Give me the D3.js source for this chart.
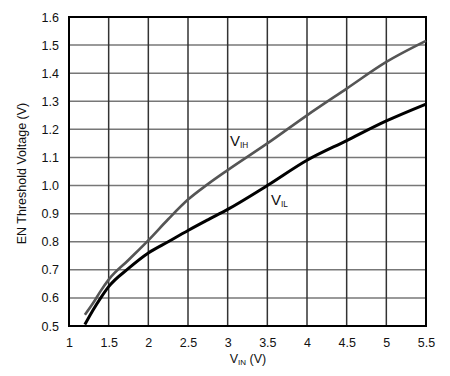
<!DOCTYPE html>
<html><head><meta charset="utf-8">
<script src="https://cdn.jsdelivr.net/npm/d3@7"></script>
<style>body{margin:0;background:#fff}svg{display:block}text{font-family:"Liberation Sans",Arial,sans-serif}</style>
</head><body>
<svg id="c" width="450" height="376"></svg>
<script>
const xTicks = [1, 1.5, 2, 2.5, 3, 3.5, 4, 4.5, 5, 5.5];
const yTicks = [0.5, 0.6, 0.7, 0.8, 0.9, 1.0, 1.1, 1.2, 1.3, 1.4, 1.5, 1.6];
const vin = [1.2, 1.3, 1.4, 1.5, 1.75, 2, 2.25, 2.5, 2.75, 3, 3.5, 4, 4.5, 5, 5.5];
const vih = [0.54, 0.58, 0.625, 0.665, 0.735, 0.805, 0.88, 0.95, 1.005, 1.055, 1.15, 1.25, 1.345, 1.44, 1.515];
const vil = [0.505, 0.555, 0.60, 0.64, 0.705, 0.76, 0.80, 0.84, 0.878, 0.915, 1.0, 1.09, 1.16, 1.23, 1.29];

const svg = d3.select("#c");
const L = 69, R = 426, T = 17, B = 326;
const x = d3.scaleLinear().domain([1, 5.5]).range([L, R]);
const y = d3.scaleLinear().domain([0.5, 1.6]).range([B, T]);

// grid
svg.append("g").selectAll("line").data(yTicks).join("line")
  .attr("x1", L).attr("x2", R).attr("y1", d => y(d)).attr("y2", d => y(d))
  .attr("stroke", "#777").attr("stroke-width", 1.5);
svg.append("g").selectAll("line").data(xTicks).join("line")
  .attr("y1", T).attr("y2", B).attr("x1", d => x(d)).attr("x2", d => x(d))
  .attr("stroke", "#333").attr("stroke-width", 1.5);
svg.append("rect").attr("x", L).attr("y", T).attr("width", R - L).attr("height", B - T)
  .attr("fill", "none").attr("stroke", "#000").attr("stroke-width", 2);

// axes
const xa = svg.append("g").attr("transform", `translate(0,${B})`)
  .call(d3.axisBottom(x).tickValues(xTicks).tickFormat(d3.format("")).tickSize(0).tickPadding(12));
const ya = svg.append("g").attr("transform", `translate(${L},0)`)
  .call(d3.axisLeft(y).tickValues(yTicks).tickFormat(d3.format(".1f")).tickSize(0).tickPadding(10));
[xa, ya].forEach(a => {
  a.select(".domain").remove();
  a.selectAll("text").attr("font-size", 12.5).attr("fill", "#111")
    .attr("font-family", '"Liberation Sans",Arial,sans-serif');
});

// lines
const line = d3.line().curve(d3.curveMonotoneX);
const ptsH = vin.map((v, i) => [x(v), y(vih[i])]);
const ptsL = vin.map((v, i) => [x(v), y(vil[i])]);
svg.append("path").attr("d", line(ptsH)).attr("fill", "none").attr("stroke", "#555").attr("stroke-width", 2.6);
svg.append("path").attr("d", line(ptsL)).attr("fill", "none").attr("stroke", "#000").attr("stroke-width", 3);

// labels
function sublabel(px, py, main, sub, size) {
  const t = svg.append("text").attr("x", px).attr("y", py).attr("font-size", size).attr("fill", "#111");
  t.append("tspan").text(main);
  t.append("tspan").text(sub).attr("font-size", size * 0.55).attr("dy", 2);
  return t;
}
sublabel(230, 146, "V", "IH", 15);
sublabel(271, 205, "V", "IL", 15);

const xt = svg.append("text").attr("x", 248).attr("y", 363).attr("text-anchor", "middle")
  .attr("font-size", 12.5).attr("fill", "#111");
xt.append("tspan").text("V");
xt.append("tspan").text("IN").attr("font-size", 8).attr("dy", 2);
xt.append("tspan").text(" (V)").attr("dy", -2);

svg.append("text").attr("transform", `translate(26,${(T + B) / 2 + 2}) rotate(-90)`)
  .attr("text-anchor", "middle").attr("font-size", 12.5).attr("fill", "#111")
  .text("EN Threshold Voltage (V)");
</script>
</body></html>
